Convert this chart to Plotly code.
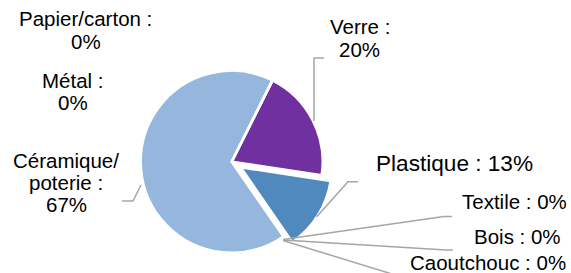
import plotly.graph_objects as go

# ---- data ----
labels = ["Verre", "Plastique", "Textile", "Bois", "Caoutchouc",
          "Céramique/poterie", "Métal", "Papier/carton"]
values = [20, 13, 0, 0, 0, 67, 0, 0]
colors = ["#7030A0", "#4F89BD", "#4F81BD", "#C0504D", "#9BBB59",
          "#95B7DE", "#8064A2", "#4BACC6"]
pulls = [0, 0.116, 0, 0, 0, 0, 0, 0]

W, H = 571, 273
total = sum(values)
pct = {l: round(v / total * 100) for l, v in zip(labels, values)}

def px(x):
    return x / W

def py(y):
    return 1 - y / H

# pie geometry (pixels)
cx, cy, r = 231.7, 161.7, 91.0
half = r * (1 + max(pulls))

fig = go.Figure(go.Pie(
    labels=labels, values=values, sort=False, direction="clockwise",
    rotation=26.6, pull=pulls, textinfo="none", hoverinfo="label+percent",
    marker=dict(colors=colors, line=dict(color="white", width=2.5)),
    domain=dict(x=[px(cx - half), px(cx + half)],
                y=[py(cy + half), py(cy - half)]),
    showlegend=False,
))

# label layout: (label, list of line templates, x center, list of y centers, font size)
label_layout = [
    ("Papier/carton", ["{l} :", "{p}%"], 86, [19, 41], 20.5),
    ("Métal", ["{l} :", "{p}%"], 73.3, [80.5, 102.5], 20.5),
    ("Céramique/poterie", ["Céramique/", "poterie :", "{p}%"], 66, [160.5, 182.3, 204.1], 20.5),
    ("Verre", ["{l} :", "{p}%"], 360, [26.7, 49.2], 20.5),
    ("Plastique", ["{l} : {p}%"], 454, [163], 22.6),
    ("Textile", ["{l} : {p}%"], 514, [201.7], 20.5),
    ("Bois", ["{l} : {p}%"], 517.5, [236.3], 20.5),
    ("Caoutchouc", ["{l} : {p}%"], 488, [262.5], 20.5),
]

annotations = []
for lab, lines, x, ys, fs in label_layout:
    for t, y in zip(lines, ys):
        annotations.append(dict(
            text=t.format(l=lab, p=pct[lab]), x=px(x), y=py(y),
            xref="paper", yref="paper", xanchor="center", yanchor="middle",
            showarrow=False,
            font=dict(family="Liberation Sans, Arial", size=fs, color="#000000"),
        ))

# leader lines (pixel points)
leaders = [
    [(324, 58), (314, 58), (314, 121)],
    [(122, 201), (133, 201), (141, 185)],
    [(358, 181.7), (348, 181.7), (316.7, 216.7)],
    [(283, 239.5), (444, 216.5), (452, 216.5)],
    [(283, 240), (446, 250), (453, 250)],
    [(283, 240.5), (392, 274)],
]
shapes = []
for pts in leaders:
    path = "M " + " L ".join(f"{px(x):.5f},{py(y):.5f}" for x, y in pts)
    shapes.append(dict(type="path", path=path, xref="paper", yref="paper",
                       line=dict(color="#A6A6A6", width=1.5)))

fig.update_layout(
    width=W, height=H, margin=dict(l=0, r=0, t=0, b=0),
    paper_bgcolor="white", plot_bgcolor="white",
    annotations=annotations, shapes=shapes,
)

fig.write_html("out.html", config={"displayModeBar": False},
               post_script="document.body.style.margin='0';document.body.style.overflow='hidden';")
